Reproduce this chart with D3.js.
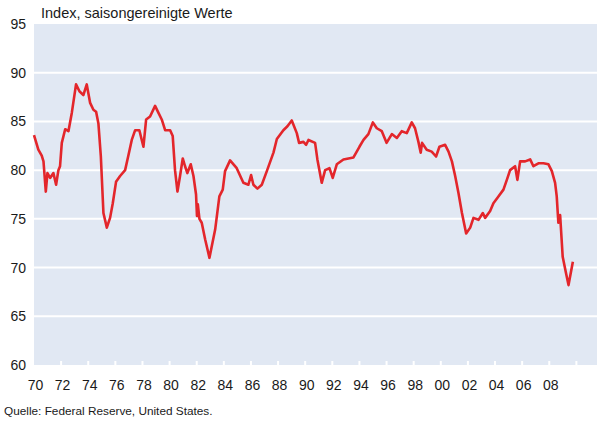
<!DOCTYPE html>
<html>
<head>
<meta charset="utf-8">
<script src="https://cdn.jsdelivr.net/npm/d3@7"></script>
<style>
  body { margin: 0; background: #fff; }
  svg { display: block; font-family: "Liberation Sans", Arial, sans-serif; }
</style>
</head>
<body>
<svg id="chart" width="597" height="421"></svg>
<script>
// decimal years and capacity utilisation values
const dates = [
  1970.00, 1970.32, 1970.57, 1970.70, 1970.87, 1970.99, 1971.19, 1971.43, 1971.63, 1971.80,
  1971.92, 1972.05, 1972.30, 1972.54, 1972.79, 1973.10, 1973.35, 1973.64, 1973.89, 1974.14,
  1974.38, 1974.58, 1974.75, 1974.93, 1975.12, 1975.37, 1975.61, 1975.81, 1976.05, 1976.35,
  1976.72, 1976.96, 1977.21, 1977.46, 1977.77, 1978.07, 1978.27, 1978.56, 1978.93, 1979.17,
  1979.42, 1979.67, 1980.04, 1980.23, 1980.40, 1980.58, 1980.77, 1980.97, 1981.14, 1981.31,
  1981.56, 1981.76, 1981.95, 1982.02, 1982.08, 1982.20, 1982.37, 1982.62, 1982.94, 1983.11,
  1983.36, 1983.67, 1983.92, 1984.09, 1984.46, 1984.95, 1985.44, 1985.81, 1986.01, 1986.18,
  1986.48, 1986.80, 1987.17, 1987.66, 1987.91, 1988.39, 1988.69, 1989.01, 1989.38, 1989.55,
  1989.87, 1990.07, 1990.24, 1990.73, 1990.90, 1991.22, 1991.47, 1991.79, 1992.03, 1992.33,
  1992.82, 1993.19, 1993.56, 1994.00, 1994.30, 1994.66, 1994.99, 1995.28, 1995.65, 1996.00,
  1996.39, 1996.76, 1997.12, 1997.49, 1997.86, 1998.10, 1998.35, 1998.52, 1998.62, 1998.96,
  1999.33, 1999.65, 1999.90, 2000.32, 2000.57, 2000.82, 2001.06, 2001.31, 2001.56, 2001.87,
  2002.17, 2002.41, 2002.78, 2003.10, 2003.27, 2003.64, 2003.88, 2004.25, 2004.62, 2004.87,
  2005.11, 2005.48, 2005.65, 2005.85, 2006.22, 2006.59, 2006.83, 2007.20, 2007.57, 2007.94,
  2008.19, 2008.43, 2008.55, 2008.67, 2008.80, 2008.99, 2009.24, 2009.42, 2009.74
];
const values = [
  83.6, 82.1, 81.5, 80.9, 77.8, 79.7, 79.2, 79.7, 78.5, 80.0,
  80.4, 82.8, 84.2, 84.0, 85.9, 88.8, 88.1, 87.7, 88.8, 86.9,
  86.2, 86.0, 84.8, 81.4, 75.6, 74.1, 75.1, 76.6, 78.8, 79.4,
  80.0, 81.5, 83.1, 84.1, 84.1, 82.4, 85.2, 85.5, 86.6, 85.9,
  85.2, 84.1, 84.1, 83.5, 80.0, 77.8, 79.4, 81.2, 80.4, 79.7,
  80.6, 79.4, 77.5, 75.3, 76.5, 75.0, 74.6, 72.9, 71.0, 72.2,
  73.9, 77.3, 78.0, 79.9, 81.0, 80.2, 78.7, 78.5, 79.5, 78.5,
  78.1, 78.5, 79.9, 81.8, 83.2, 84.1, 84.5, 85.1, 83.8, 82.8,
  82.9, 82.6, 83.1, 82.8, 81.1, 78.7, 80.0, 80.2, 79.2, 80.6,
  81.1, 81.2, 81.3, 82.4, 83.1, 83.7, 84.9, 84.3, 84.0, 82.8,
  83.7, 83.3, 84.0, 83.8, 84.9, 84.3, 82.9, 81.8, 82.8, 82.1,
  81.9, 81.4, 82.4, 82.6, 81.9, 80.9, 79.4, 77.6, 75.6, 73.5,
  74.1, 75.1, 74.9, 75.6, 75.1, 75.8, 76.6, 77.3, 78.0, 79.0,
  80.0, 80.4, 79.0, 80.9, 80.9, 81.1, 80.4, 80.7, 80.7, 80.6,
  79.9, 78.7, 77.3, 74.6, 75.4, 71.1, 69.4, 68.2, 70.6
];
const yTicks = [60, 65, 70, 75, 80, 85, 90, 95];
const xTicks = [1970, 1972, 1974, 1976, 1978, 1980, 1982, 1984, 1986, 1988,
                1990, 1992, 1994, 1996, 1998, 2000, 2002, 2004, 2006, 2008];
const xTickLabels = ["70", "72", "74", "76", "78", "80", "82", "84", "86", "88",
                     "90", "92", "94", "96", "98", "00", "02", "04", "06", "08"];

let svg = d3.select("#chart");
let margin = { top: 24, bottom: 56, left: 34, right: 0 };
let innerWidth = 597 - margin.left - margin.right;
let innerHeight = 421 - margin.top - margin.bottom;

let plot = svg.append("g")
  .attr("transform", `translate(${margin.left},${margin.top})`);

let x = d3.scaleLinear().domain([1970, 2011.52]).range([0, innerWidth]);
let y = d3.scaleLinear().domain([60, 95]).range([innerHeight, 0]);

plot.append("rect")
  .attr("width", innerWidth)
  .attr("height", innerHeight)
  .attr("fill", "#e1e8f3");

// white grid lines
plot.selectAll(".grid")
  .data(yTicks.filter((d) => d > 60 && d < 95))
  .enter()
  .append("line")
  .attr("x1", 0)
  .attr("x2", innerWidth)
  .attr("y1", (d) => y(d))
  .attr("y2", (d) => y(d))
  .attr("stroke", "#fff")
  .attr("stroke-width", 2);

// small white ticks at the bottom
plot.selectAll(".tick-mark")
  .data(xTicks.concat([2010]).filter((d) => d > 1970))
  .enter()
  .append("line")
  .attr("x1", (d) => x(d))
  .attr("x2", (d) => x(d))
  .attr("y1", innerHeight)
  .attr("y2", innerHeight - 4)
  .attr("stroke", "#fff")
  .attr("stroke-width", 2);

// y axis labels
let yAxis = svg.append("g")
  .attr("transform", `translate(${margin.left},${margin.top})`)
  .call(d3.axisLeft(y).tickValues(yTicks).tickSize(0).tickPadding(8));
yAxis.select(".domain").remove();
yAxis.selectAll("text")
  .attr("font-size", 14)
  .attr("font-family", "Liberation Sans, Arial, sans-serif")
  .attr("fill", "#1a1a1a");

// x axis labels
let xAxis = svg.append("g")
  .attr("transform", `translate(${margin.left},${margin.top + innerHeight})`)
  .call(d3.axisBottom(x).tickValues(xTicks)
    .tickFormat((d, i) => xTickLabels[i]).tickSize(0).tickPadding(15));
xAxis.select(".domain").remove();
xAxis.selectAll("text")
  .attr("font-size", 14)
  .attr("font-family", "Liberation Sans, Arial, sans-serif")
  .attr("fill", "#1a1a1a")
  .attr("dx", 1);

// series line
let line = d3.line()
  .x((d, i) => x(dates[i]))
  .y((d) => y(d));

plot.append("path")
  .datum(values)
  .attr("d", line)
  .attr("fill", "none")
  .attr("stroke", "#e3262b")
  .attr("stroke-width", 2.6)
  .attr("stroke-linejoin", "round");

svg.append("text")
  .attr("x", 41)
  .attr("y", 18)
  .attr("font-size", 14.5)
  .attr("fill", "#1a1a1a")
  .text("Index, saisongereinigte Werte");

svg.append("text")
  .attr("x", 4)
  .attr("y", 415)
  .attr("font-size", 11.8)
  .attr("fill", "#1a1a1a")
  .text("Quelle: Federal Reserve, United States.");
</script>
</body>
</html>
